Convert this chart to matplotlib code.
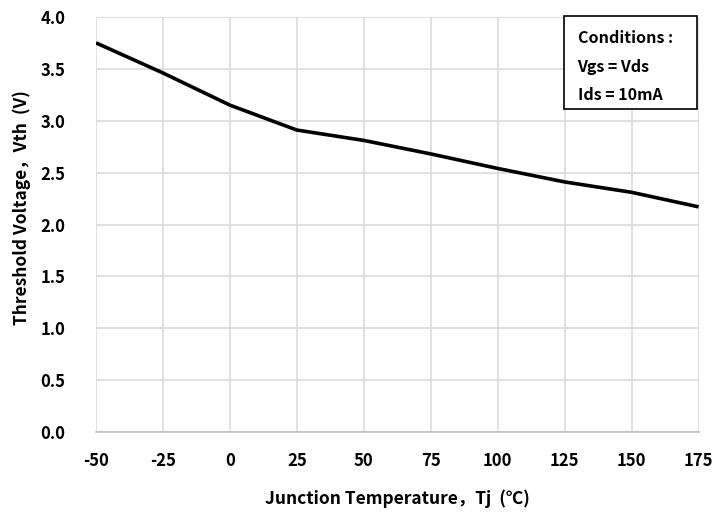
import matplotlib
matplotlib.use("Agg")
import matplotlib.pyplot as plt
from matplotlib.patches import Rectangle

plt.rcParams['font.family'] = ['Noto Sans CJK SC', 'DejaVu Sans']
plt.rcParams['axes.unicode_minus'] = False

# Threshold voltage vs junction temperature
temps = [-50, -25, 0, 25, 50, 75, 100, 125, 150, 175]
vth = [3.75, 3.46, 3.15, 2.91, 2.81, 2.68, 2.54, 2.41, 2.31, 2.17]

x_ticks = [-50, -25, 0, 25, 50, 75, 100, 125, 150, 175]
y_ticks = [0.0, 0.5, 1.0, 1.5, 2.0, 2.5, 3.0, 3.5, 4.0]
conditions = ["Conditions :", "Vgs = Vds", "Ids = 10mA"]

fig = plt.figure(figsize=(7.27, 5.12), dpi=100)
ax = fig.add_axes([0.132, 0.156, 0.829, 0.811])

ax.plot(temps, vth, color='black', lw=2.6, solid_capstyle='butt')

ax.set_xlim(-50, 175)
ax.set_ylim(0, 4.0)
ax.set_xticks(x_ticks)
ax.set_yticks(y_ticks)
ax.set_yticklabels([f"{v:.1f}" for v in y_ticks])
ax.grid(True, color='#d9d9d9', lw=1.1)
ax.set_axisbelow(True)
for side in ['top', 'right', 'left']:
    ax.spines[side].set_visible(False)
ax.spines['bottom'].set_color('#bfbfbf')
ax.spines['bottom'].set_linewidth(1.2)
ax.tick_params(length=0, labelsize=12, pad=14)
for lbl in ax.get_xticklabels() + ax.get_yticklabels():
    lbl.set_fontweight('bold')
ax.tick_params(axis='y', pad=22)

ax.set_xlabel("Junction Temperature，Tj  (℃)", fontsize=12.5, fontweight='bold', labelpad=14)
ax.set_ylabel("Threshold Voltage，Vth  (V)", fontsize=12.5, fontweight='bold')
ax.yaxis.set_label_coords(-0.108, 0.54)

# conditions box, top right
box = Rectangle((0.776, 0.778), 0.221, 0.224, transform=ax.transAxes,
                fc='white', ec='black', lw=1.2, zorder=5, clip_on=False)
ax.add_patch(box)
ax.text(0.799, 0.968, "\n".join(conditions), transform=ax.transAxes,
        ha='left', va='top', fontsize=11.5, fontweight='bold', linespacing=1.95,
        zorder=6)

fig.savefig("out.png", dpi=100)
